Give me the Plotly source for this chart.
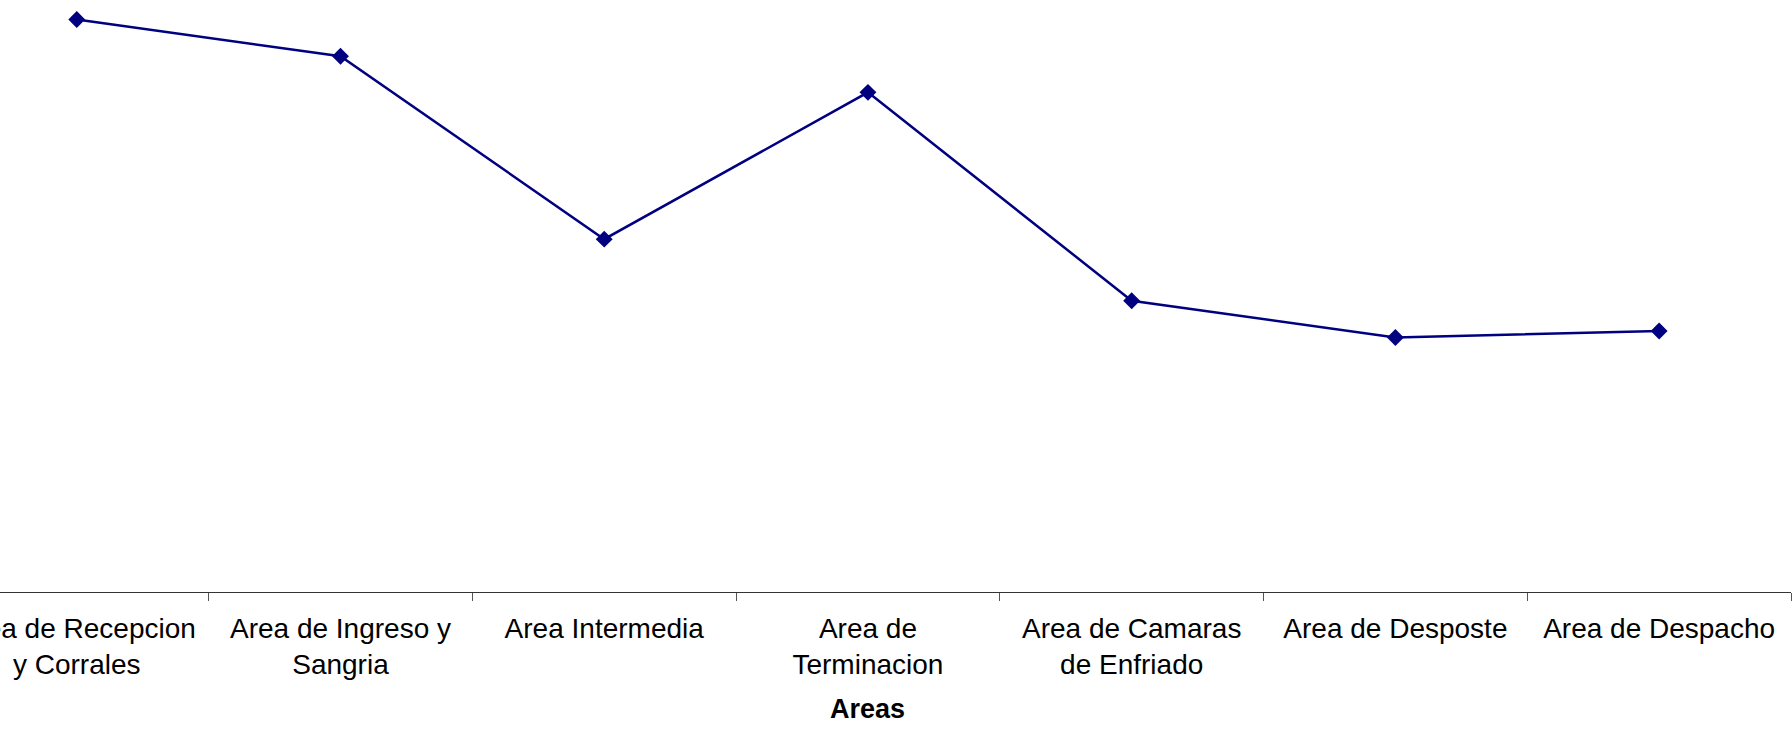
import plotly.graph_objects as go

categories = [
    "Area de Recepcion<br>y Corrales",
    "Area de Ingreso y<br>Sangria",
    "Area Intermedia",
    "Area de<br>Terminacion",
    "Area de Camaras<br>de Enfriado",
    "Area de Desposte",
    "Area de Despacho",
]
values = [96.7, 90.5, 59.6, 84.4, 49.2, 43.0, 44.1]
x_title = "Areas"

FONT = "Liberation Sans, Arial, sans-serif"

fig = go.Figure()
fig.add_trace(go.Scatter(
    x=categories,
    y=values,
    mode="lines+markers",
    line=dict(color="#000080", width=2.5),
    marker=dict(symbol="diamond", size=13, color="#000080"),
    showlegend=False,
))

fig.update_layout(
    width=1792,
    height=731,
    margin=dict(l=0, r=1, t=0, b=139, autoexpand=False),
    paper_bgcolor="white",
    plot_bgcolor="white",
    font=dict(family=FONT, size=28, color="black"),
    xaxis=dict(
        type="category",
        range=[-0.291, 6.5],
        automargin=False,
        tickson="boundaries",
        ticks="outside",
        ticklen=8,
        tickcolor="#555555",
        tickwidth=1,
        showline=True,
        linecolor="#333333",
        linewidth=1,
        showgrid=False,
        zeroline=False,
        ticklabelstandoff=11,
        tickfont=dict(family=FONT, size=28, color="black"),
    ),
    yaxis=dict(
        range=[0, 100],
        visible=False,
        automargin=False,
        showgrid=False,
        zeroline=False,
    ),
    annotations=[dict(
        x=3, xref="x", y=0, yref="paper",
        text="<b>" + x_title + "</b>",
        showarrow=False,
        yanchor="middle", yshift=-117,
        font=dict(family=FONT, size=27, color="black"),
    )],
)

fig.write_html("out.html")
